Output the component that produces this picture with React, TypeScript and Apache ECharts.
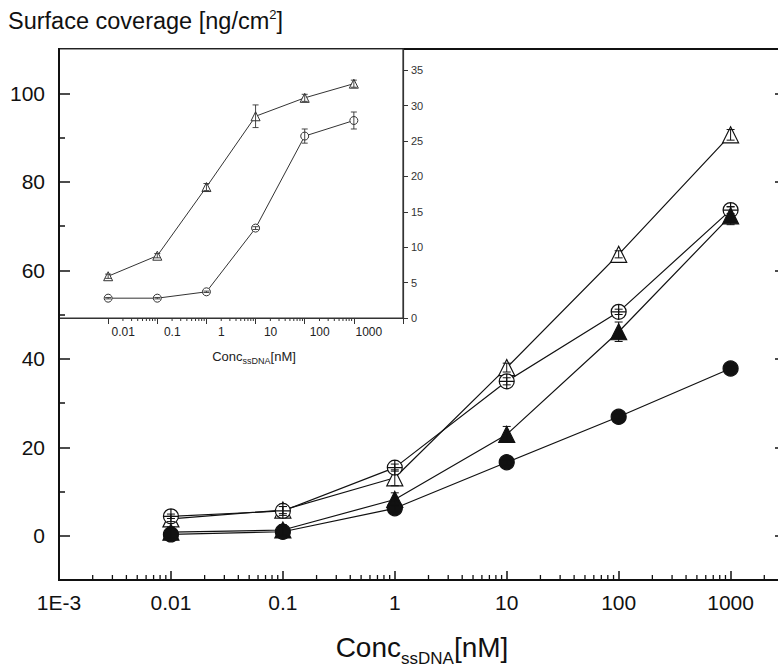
import React, { useEffect, useRef } from "react";
import * as echarts from "echarts";

// ---------- data ----------
const conc = [0.01, 0.1, 1, 10, 100, 1000];

const openTriangle = [3.8, 5.8, 13.1, 38.0, 63.6, 90.6];
const openTriangleErr = [0.6, 0.8, 1.8, 1.0, 0.8, 1.2];
const circleCross = [4.4, 5.6, 15.4, 34.9, 50.6, 73.6];
const circleCrossErr = [0.5, 1.0, 0.8, 0.8, 0.6, 0.8];
const filledTriangle = [0.8, 1.3, 8.2, 22.9, 46.1, 72.3];
const filledTriangleErr = [1.2, 1.2, 1.5, 1.8, 2.2, 2.0];
const filledCircle = [0.3, 0.9, 6.2, 16.6, 26.9, 37.8];
const filledCircleErr = [1.4, 1.0, 0.8, 0.6, 0.6, 0.6];

const insetTriangle = [5.9, 8.8, 18.5, 28.5, 31.1, 33.1];
const insetTriangleErr = [0.3, 0.3, 0.5, 1.6, 0.5, 0.5];
const insetCircle = [2.8, 2.8, 3.7, 12.7, 25.7, 27.9];
const insetCircleErr = [0.1, 0.1, 0.1, 0.2, 1.0, 1.2];

const mainXTickValues = [0.001, 0.01, 0.1, 1, 10, 100, 1000];
const mainXTickLabels = ["1E-3", "0.01", "0.1", "1", "10", "100", "1000"];
const mainYTicks = [0, 20, 40, 60, 80, 100];
const mainYMinorTicks = [10, 30, 50, 70, 90];
const insetXTickValues = [0.01, 0.1, 1, 10, 100, 1000];
const insetXTickLabels = ["0.01", "0.1", "1", "10", "100", "1000"];
const insetYTicks = [0, 5, 10, 15, 20, 25, 30, 35];

const MAIN_X_MIN = 0.001;
const MAIN_X_MAX = 3000;
const MAIN_Y_MIN = -10;
const MAIN_Y_MAX = 110;
const INSET_X_MIN = 0.001;
const INSET_X_MAX = 10000;
const INSET_Y_MIN = 0;
const INSET_Y_MAX = 38;

const FONT_NAME = "Liberation Sans";
const FONT = "'Liberation Sans', Arial, Helvetica, sans-serif";
const INK = "#111";
const CHART_W = 800;

function minorLogTicks(lo: number, hi: number): number[] {
  const out: number[] = [];
  for (let d = Math.floor(Math.log10(lo)); d <= Math.ceil(Math.log10(hi)); d++) {
    for (let k = 2; k <= 9; k++) {
      const v = Number((k * Math.pow(10, d)).toPrecision(6));
      if (v > lo && v < hi) out.push(v);
    }
  }
  return out;
}

function labelFor(values: number[], labels: string[]) {
  return (v: number) => {
    for (let i = 0; i < values.length; i++) {
      if (Math.abs(Math.log10(v) - Math.log10(values[i])) < 1e-6) return labels[i];
    }
    return "";
  };
}

const circleCrossPath =
  "path://M0,10 A10,10 0 1,1 20,10 A10,10 0 1,1 0,10 Z M0,10 L20,10 M10,0 L10,20";

function pairs(ys: number[]) {
  return conc.map((c, i) => [c, ys[i]]);
}
function triples(ys: number[], es: number[]) {
  return conc.map((c, i) => [c, ys[i], es[i]]);
}

function errorSeries(ys: number[], es: number[], xAxisIndex: number, yAxisIndex: number, cap: number, color: string, lw: number) {
  return {
    type: "custom",
    xAxisIndex,
    yAxisIndex,
    z: 4,
    clip: false,
    silent: true,
    encode: { x: 0, y: 1 },
    data: triples(ys, es),
    renderItem: (_p: any, api: any) => {
      const x = api.value(0);
      const y = api.value(1);
      const e = api.value(2);
      const hi = api.coord([x, y + e]);
      const lo = api.coord([x, y - e]);
      const style = { stroke: color, lineWidth: lw };
      return {
        type: "group",
        children: [
          { type: "line", shape: { x1: hi[0], y1: hi[1], x2: lo[0], y2: lo[1] }, style },
          { type: "line", shape: { x1: hi[0] - cap, y1: hi[1], x2: hi[0] + cap, y2: hi[1] }, style },
          { type: "line", shape: { x1: lo[0] - cap, y1: lo[1], x2: lo[0] + cap, y2: lo[1] }, style },
        ],
      };
    },
  };
}

// minor log ticks along a bottom axis, placed through the axis scales
function minorTickSeries(ticks: number[], yBase: number, xAxisIndex: number, yAxisIndex: number, len: number, color: string, lw: number) {
  return {
    type: "custom",
    xAxisIndex,
    yAxisIndex,
    clip: false,
    encode: { x: 0, y: 1 },
    data: ticks.map((t) => [t, yBase]),
    renderItem: (_p: any, api: any) => {
      const p = api.coord([api.value(0), api.value(1)]);
      return {
        type: "group",
        children: [
          {
            type: "line",
            shape: { x1: p[0], y1: p[1], x2: p[0], y2: p[1] + len },
            style: { stroke: color, lineWidth: lw },
          },
        ],
      };
    },
  };
}

function lineSeries(ys: number[], symbol: string, size: number, fill: string, xAxisIndex: number, yAxisIndex: number, lineColor: string, lw: number) {
  return {
    type: "line",
    xAxisIndex,
    yAxisIndex,
    data: pairs(ys),
    symbol,
    symbolSize: size,
    showAllSymbol: true,
    z: 3,
    lineStyle: { color: lineColor, width: lw },
    itemStyle: { color: fill, borderColor: lineColor, borderWidth: lw },
  };
}

function measure(text: string, size: number): number {
  const c = document.createElement("canvas");
  const ctx = c.getContext("2d");
  if (!ctx) return text.length * size * 0.55;
  ctx.font = `${size}px '${FONT_NAME}'`;
  return ctx.measureText(text).width;
}

function textRun(pieces: { t: string; size: number; cy: number }[], startX: number, color: string) {
  let x = startX;
  return pieces.map((p) => {
    const el = {
      type: "text",
      x,
      y: p.cy,
      z: 10,
      silent: true,
      style: { text: p.t, fontSize: p.size, fontFamily: FONT, fill: color, align: "left", verticalAlign: "middle" },
    };
    x += measure(p.t, p.size);
    return el;
  });
}

function centeredRun(pieces: { t: string; size: number; cy: number }[], centerX: number, color: string) {
  const total = pieces.reduce((s, p) => s + measure(p.t, p.size), 0);
  return textRun(pieces, centerX - total / 2, color);
}

export default function App() {
  const ref = useRef<HTMLDivElement>(null);

  useEffect(() => {
    if (!ref.current) return;
    const chart = echarts.init(ref.current, null, { renderer: "svg" });

    const hidden = () => ({ show: false });
    const noSplit = () => ({ splitLine: { show: false } });

    const graphics = [
      ...textRun(
        [
          { t: "Surface coverage [ng/cm", size: 23.5, cy: 21 },
          { t: "2", size: 13, cy: 14 },
          { t: "]", size: 23.5, cy: 21 },
        ],
        8,
        INK
      ),
      ...centeredRun(
        [
          { t: "Conc", size: 28, cy: 647 },
          { t: "ssDNA", size: 17, cy: 658 },
          { t: "[nM]", size: 28, cy: 647 },
        ],
        422,
        INK
      ),
      ...centeredRun(
        [
          { t: "Conc", size: 13, cy: 356 },
          { t: "ssDNA", size: 9, cy: 361 },
          { t: "[nM]", size: 13, cy: 356 },
        ],
        254,
        "#222"
      ),
    ];

    const option: any = {
      animation: false,
      backgroundColor: "#fff",
      textStyle: { fontFamily: FONT },
      grid: [
        { left: 59, top: 49, width: 725, height: 531, show: true, borderColor: INK, borderWidth: 2, z: 0, outerBoundsMode: "none" },
        { left: 59, top: 49, width: 344, height: 269, show: true, backgroundColor: "#fff", borderColor: "#333", borderWidth: 1.2, z: 1, outerBoundsMode: "none" },
      ],
      xAxis: [
        {
          type: "log",
          gridIndex: 0,
          min: MAIN_X_MIN,
          max: MAIN_X_MAX,
          interval: 1,
          position: "bottom",
          axisLine: { show: true, onZero: false, lineStyle: { color: INK, width: 2 } },
          axisTick: { show: true, inside: true, length: 9, lineStyle: { color: INK, width: 1.5 } },
          axisLabel: {
            show: true,
            formatter: labelFor(mainXTickValues, mainXTickLabels),
            fontSize: 21,
            color: INK,
            margin: 12,
            fontFamily: FONT,
            showMaxLabel: false,
          },
          ...noSplit(),
          z: 5,
        },
        {
          type: "log",
          gridIndex: 1,
          min: INSET_X_MIN,
          max: INSET_X_MAX,
          interval: 1,
          position: "bottom",
          axisLine: { show: true, onZero: false, lineStyle: { color: "#333", width: 1.2 } },
          axisTick: { show: true, inside: false, length: 6, lineStyle: { color: "#333", width: 1 } },
          axisLabel: {
            show: true,
            formatter: labelFor(insetXTickValues, insetXTickLabels),
            fontSize: 12,
            color: "#222",
            margin: 8,
            padding: [0, 0, 0, 30],
            fontFamily: FONT,
          },
          ...noSplit(),
          z: 6,
        },
      ],
      yAxis: [
        {
          type: "value",
          gridIndex: 0,
          min: MAIN_Y_MIN,
          max: MAIN_Y_MAX,
          position: "left",
          axisLine: { show: true, onZero: false, lineStyle: { color: INK, width: 2 } },
          axisTick: { show: true, inside: true, length: 11, customValues: mainYTicks, lineStyle: { color: INK, width: 1.5 } },
          axisLabel: { show: true, customValues: mainYTicks, fontSize: 21, color: INK, margin: 14, fontFamily: FONT },
          ...noSplit(),
          z: 7,
        },
        {
          type: "value",
          gridIndex: 0,
          min: MAIN_Y_MIN,
          max: MAIN_Y_MAX,
          position: "left",
          axisLine: { show: false, onZero: false },
          axisTick: { show: true, inside: true, length: 6, customValues: mainYMinorTicks, lineStyle: { color: INK, width: 1.5 } },
          axisLabel: hidden(),
          ...noSplit(),
          z: 7,
        },
        {
          type: "value",
          gridIndex: 0,
          min: MAIN_Y_MIN,
          max: MAIN_Y_MAX,
          position: "right",
          axisLine: { show: false, onZero: false },
          axisTick: { show: true, inside: true, length: 9, customValues: mainYTicks, lineStyle: { color: INK, width: 1.5 } },
          axisLabel: hidden(),
          ...noSplit(),
          z: 5,
        },
        {
          type: "value",
          gridIndex: 1,
          min: INSET_Y_MIN,
          max: INSET_Y_MAX,
          position: "right",
          axisLine: { show: true, onZero: false, lineStyle: { color: "#333", width: 1.2 } },
          axisTick: { show: true, inside: false, length: 5, customValues: insetYTicks, lineStyle: { color: "#333", width: 1 } },
          axisLabel: { show: true, customValues: insetYTicks, fontSize: 11, color: "#333", margin: 8, fontFamily: FONT },
          ...noSplit(),
          z: 6,
        },
      ],
      series: [
        lineSeries(openTriangle, "triangle", 16, "#fff", 0, 0, INK, 1.2),
        lineSeries(circleCross, circleCrossPath, 15, "#fff", 0, 0, INK, 1.2),
        lineSeries(filledTriangle, "triangle", 16, INK, 0, 0, INK, 1.2),
        lineSeries(filledCircle, "circle", 15, INK, 0, 0, INK, 1.2),
        errorSeries(openTriangle, openTriangleErr, 0, 0, 4, INK, 1),
        errorSeries(circleCross, circleCrossErr, 0, 0, 4, INK, 1),
        errorSeries(filledTriangle, filledTriangleErr, 0, 0, 4, INK, 1),
        errorSeries(filledCircle, filledCircleErr, 0, 0, 4, INK, 1),
        minorTickSeries(minorLogTicks(MAIN_X_MIN, MAIN_X_MAX), MAIN_Y_MIN, 0, 0, -5, INK, 1.3),
        lineSeries(insetTriangle, "triangle", 9, "#fff", 1, 3, "#333", 1),
        lineSeries(insetCircle, "circle", 8, "#fff", 1, 3, "#333", 1),
        errorSeries(insetTriangle, insetTriangleErr, 1, 3, 3, "#333", 0.9),
        errorSeries(insetCircle, insetCircleErr, 1, 3, 3, "#333", 0.9),
        minorTickSeries(minorLogTicks(0.01, 1000), INSET_Y_MIN, 1, 3, 3, "#333", 1),
      ],
      graphic: graphics,
    };

    chart.setOption(option);
    return () => chart.dispose();
  }, []);

  return (
    <div style={{ position: "absolute", left: 0, top: 0, width: 778, height: 666, overflow: "hidden", background: "#fff" }}>
      <div ref={ref} style={{ width: CHART_W, height: 666 }} />
    </div>
  );
}
